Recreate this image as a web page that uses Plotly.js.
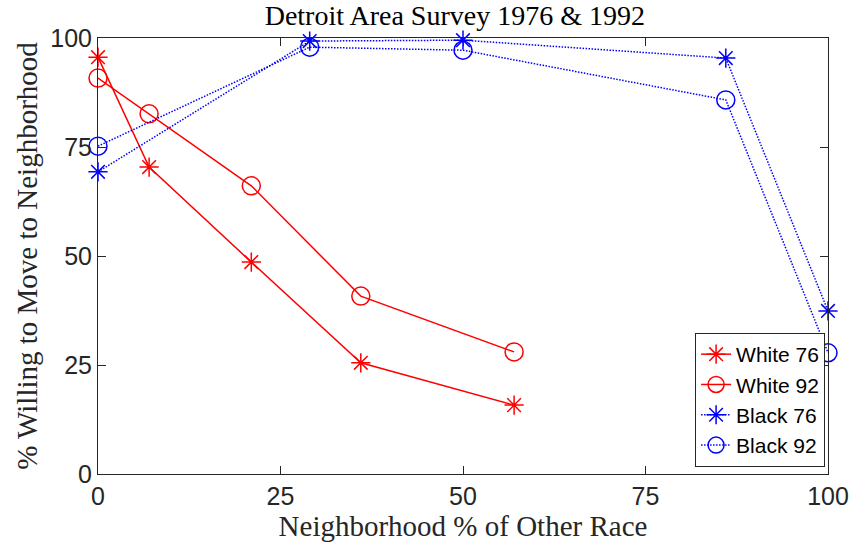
<!DOCTYPE html>
<html>
<head>
<meta charset="utf-8">
<script src="https://cdn.plot.ly/plotly-3.0.1.min.js"></script>
<style>html,body{margin:0;padding:0;background:#fff;}#chart{width:863px;height:547px;}</style>
</head>
<body>
<div id="chart"></div>
<script>
const whiteX = [0, 7, 21, 36, 57];
const white76 = [95.6, 70.4, 48.6, 25.5, 15.8];
const white92 = [90.8, 82.6, 66.1, 40.8, 28.0];
const blackX = [0, 29, 50, 86, 100];
const black76 = [69.3, 99.3, 99.5, 95.4, 37.4];
const black92 = [75.2, 97.9, 97.2, 85.8, 27.8];
const tickVals = [0, 25, 50, 75, 100];
const tickText = ['0', '25', '50', '75', '100'];

const traces = [
  {x: whiteX, y: white76, name: 'White 76', mode: 'lines+markers', cliponaxis: false,
   line: {color: '#ff0000', width: 1.5, dash: 'solid'},
   marker: {symbol: 'asterisk-open', size: 16, color: '#ff0000', line: {color: '#ff0000', width: 1.5}}},
  {x: whiteX, y: white92, name: 'White 92', mode: 'lines+markers', cliponaxis: false,
   line: {color: '#ff0000', width: 1.5, dash: 'solid'},
   marker: {symbol: 'circle-open', size: 18, color: '#ff0000', line: {color: '#ff0000', width: 1.5}}},
  {x: blackX, y: black76, name: 'Black 76', mode: 'lines+markers', cliponaxis: false,
   line: {color: '#0000ff', width: 1.5, dash: '1.5px,1.5px'},
   marker: {symbol: 'asterisk-open', size: 16, color: '#0000ff', line: {color: '#0000ff', width: 1.5}}},
  {x: blackX, y: black92, name: 'Black 92', mode: 'lines+markers', cliponaxis: false,
   line: {color: '#0000ff', width: 1.5, dash: '1.5px,1.5px'},
   marker: {symbol: 'circle-open', size: 18, color: '#0000ff', line: {color: '#0000ff', width: 1.5}}}
];

const axisCommon = {
  range: [0, 100], tickmode: 'array', tickvals: tickVals, ticktext: tickText,
  ticks: 'inside', ticklen: 8, tickwidth: 1, tickcolor: '#262626',
  showline: true, linecolor: '#262626', linewidth: 1, mirror: 'ticks',
  showgrid: false, zeroline: false,
  tickfont: {family: 'Liberation Sans, Arial, sans-serif', size: 25, color: '#262626'}
};

const layout = {
  width: 863, height: 547,
  margin: {l: 98, r: 35, t: 38, b: 73},
  paper_bgcolor: '#ffffff', plot_bgcolor: '#ffffff',
  title: {text: 'Detroit Area Survey 1976 &amp; 1992', x: 0.527, xanchor: 'center', y: 0.99, yanchor: 'top',
          font: {family: 'Liberation Serif, Times New Roman, serif', size: 28, color: '#000'}},
  xaxis: Object.assign({}, axisCommon, {
    title: {text: 'Neighborhood % of Other Race', standoff: 2,
            font: {family: 'Liberation Serif, Times New Roman, serif', size: 29, color: '#262626'}}
  }),
  yaxis: Object.assign({}, axisCommon, {
    title: {text: '% Willing to Move to Neighborhood', standoff: 4,
            font: {family: 'Liberation Serif, Times New Roman, serif', size: 29, color: '#262626'}}
  }),
  showlegend: true,
  legend: {x: 0.996, y: 0.016, xanchor: 'right', yanchor: 'bottom',
           bgcolor: '#ffffff', bordercolor: '#262626', borderwidth: 1,
           font: {family: 'Liberation Sans, Arial, sans-serif', size: 21, color: '#000'},
           tracegroupgap: 0, itemwidth: 30}
};

Plotly.newPlot('chart', traces, layout, {displayModeBar: false, staticPlot: true});
</script>
</body>
</html>
